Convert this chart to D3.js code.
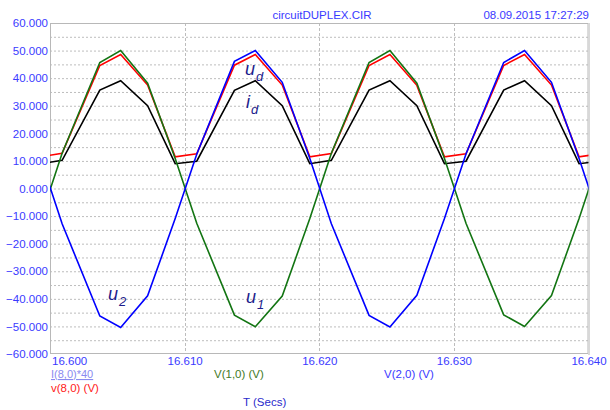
<!DOCTYPE html>
<html>
<head>
<meta charset="utf-8">
<script src="https://cdn.jsdelivr.net/npm/d3@7"></script>
<style>
html, body { margin: 0; padding: 0; background: #fff; }
svg { display: block; font-family: "Liberation Sans", Arial, sans-serif; }
</style>
</head>
<body>
<svg id="chart" width="610" height="410"></svg>
<script>
// ---- data ----
const times = [16.5993, 16.6009, 16.6037, 16.60525, 16.60725, 16.6093,
               16.6109, 16.6137, 16.61525, 16.61725, 16.6193,
               16.6209, 16.6237, 16.62525, 16.62725, 16.6293,
               16.6309, 16.6337, 16.63525, 16.63725, 16.6393, 16.6409];
const u1 = [-10.9, 12.8, 45.7, 50.0, 38.2, 10.9,
            -12.6, -45.9, -50.1, -39.0, -10.9,
            12.8, 45.7, 50.0, 38.2, 10.9,
            -12.6, -45.8, -50.0, -38.8, -10.9, 12.7];
const u2 = [10.9, -12.8, -46.2, -50.4, -38.9, -10.9,
            12.4, 46.1, 50.0, 38.5, 10.9,
            -12.8, -46.0, -50.2, -38.7, -10.9,
            12.5, 45.7, 50.0, 38.5, 10.9, -12.6];
const vd = [11.5, 12.8, 44.6, 48.6, 37.5, 11.5,
            12.6, 44.7, 48.6, 37.5, 11.5,
            12.7, 44.6, 48.6, 37.4, 11.5,
            12.6, 44.6, 48.6, 37.5, 11.5, 12.6];
const id40 = [9.0, 10.2, 35.7, 39.1, 30.0, 9.0,
              9.9, 35.6, 39.1, 30.0, 9.0,
              10.2, 35.7, 39.1, 30.0, 9.0,
              9.9, 35.7, 39.1, 30.0, 9.0, 9.9];
const xTicks = [16.600, 16.610, 16.620, 16.630, 16.640];
const yTicks = [-60, -50, -40, -30, -20, -10, 0, 10, 20, 30, 40, 50, 60];
const yMinor = [-55, -45, -35, -25, -15, -5, 5, 15, 25, 35, 45, 55];
const titleText = "circuitDUPLEX.CIR";
const dateText = "08.09.2015 17:27:29";

// ---- layout ----
const L = 50, R = 588.5, T = 23, B = 354;
const svg = d3.select("#chart");
const x = d3.scaleLinear().domain([16.600, 16.640]).range([L, R]);
const y = d3.scaleLinear().domain([-60, 60]).range([B, T]);

svg.append("defs").append("clipPath").attr("id", "clip")
  .append("rect").attr("x", L).attr("y", T).attr("width", R - L).attr("height", B - T);

// grid
const grid = svg.append("g");
grid.selectAll("line.h").data(yTicks.concat(yMinor).filter(v => v > -60 && v < 60)).join("line")
  .attr("x1", L).attr("x2", R)
  .attr("y1", d => y(d) + 0.5).attr("y2", d => y(d) + 0.5)
  .attr("stroke", "#bdbdbd").attr("stroke-width", 1).attr("stroke-dasharray", "2,2");
grid.selectAll("line.v").data(xTicks.slice(1, -1)).join("line")
  .attr("x1", d => Math.round(x(d)) + 0.5).attr("x2", d => Math.round(x(d)) + 0.5)
  .attr("y1", T).attr("y2", B)
  .attr("stroke", "#bdbdbd").attr("stroke-width", 1).attr("stroke-dasharray", "3,2");

// frame
svg.append("rect").attr("x", L + 0.5).attr("y", T + 0.5).attr("width", R - L - 1).attr("height", B - T - 1)
  .attr("fill", "none").attr("stroke", "#b8b8b8").attr("stroke-width", 1);
svg.append("line").attr("x1", R + 0.5).attr("x2", R + 0.5).attr("y1", T).attr("y2", B + 1)
  .attr("stroke", "#d8d8d8").attr("stroke-width", 2);

// y axis labels
const yAxis = d3.axisLeft(y).tickValues(yTicks).tickSize(0).tickPadding(2)
  .tickFormat(d => d3.format(".3f")(d));
const ya = svg.append("g").attr("transform", `translate(${L},0)`).call(yAxis);
ya.select(".domain").remove();
ya.selectAll("text").attr("fill", "#3a3aff").style("font-size", "11.5px")
  .style("font-family", "'Liberation Sans', Arial, sans-serif");

// x axis labels
const xAxis = d3.axisBottom(x).tickValues(xTicks).tickSize(0).tickPadding(0)
  .tickFormat(d => d3.format(".3f")(d));
const xa = svg.append("g").attr("transform", `translate(0,${B})`).call(xAxis);
xa.select(".domain").remove();
xa.selectAll("text").attr("fill", "#3a3aff").style("font-size", "11.5px")
  .style("font-family", "'Liberation Sans', Arial, sans-serif")
  .attr("dy", "0").attr("y", 11)
  .attr("text-anchor", (d, i) => i === 0 ? "start" : "middle")
  .attr("dx", (d, i) => i === 0 ? 1.5 : 0);

// lines
const pts = (vals) => times.map((t, i) => [t, vals[i]]);
const line = d3.line().x(d => x(d[0])).y(d => y(d[1]));
const lines = svg.append("g").attr("clip-path", "url(#clip)");
const series = [
  {v: id40, c: "#000000"},
  {v: vd, c: "#ff0000"},
  {v: u1, c: "#137513"},
  {v: u2, c: "#0000ff"}
];
lines.selectAll("path").data(series).join("path")
  .attr("d", d => line(pts(d.v)))
  .attr("fill", "none").attr("stroke", d => d.c).attr("stroke-width", 1.6)
  .attr("stroke-linejoin", "miter");

// titles
svg.append("text").attr("x", 322).attr("y", 19).attr("text-anchor", "middle")
  .attr("fill", "#3a3aff").style("font-size", "11.5px").text(titleText);
svg.append("text").attr("x", 589).attr("y", 19).attr("text-anchor", "end")
  .attr("fill", "#3a3aff").style("font-size", "11.5px").text(dateText);

// legend texts
svg.append("text").attr("x", 51).attr("y", 378).attr("fill", "#8a8af0")
  .attr("text-decoration", "underline").style("font-size", "11px").text("I(8,0)*40");
svg.append("text").attr("x", 51).attr("y", 392).attr("fill", "#ff2020")
  .style("font-size", "11.5px").text("v(8,0) (V)");
svg.append("text").attr("x", 214).attr("y", 378).attr("fill", "#3f7a26")
  .style("font-size", "11.5px").text("V(1,0) (V)");
svg.append("text").attr("x", 384).attr("y", 378).attr("fill", "#3a3aff")
  .style("font-size", "11.5px").text("V(2,0) (V)");
svg.append("text").attr("x", 243).attr("y", 406).attr("fill", "#2a2acc")
  .style("font-size", "11.5px").text("T (Secs)");

// annotations
const ann = [
  {x: 245, y: 75, main: "u", sub: "d"},
  {x: 246, y: 108, main: "i", sub: "d"},
  {x: 108, y: 300, main: "u", sub: "2"},
  {x: 246, y: 303, main: "u", sub: "1"}
];
ann.forEach(a => {
  const t = svg.append("text").attr("x", a.x).attr("y", a.y).attr("fill", "#1c1c8c")
    .style("font-style", "italic").style("font-size", "18px");
  t.append("tspan").text(a.main);
  t.append("tspan").attr("dy", 6).attr("dx", 1).style("font-size", "13px").text(a.sub);
});
</script>
</body>
</html>
